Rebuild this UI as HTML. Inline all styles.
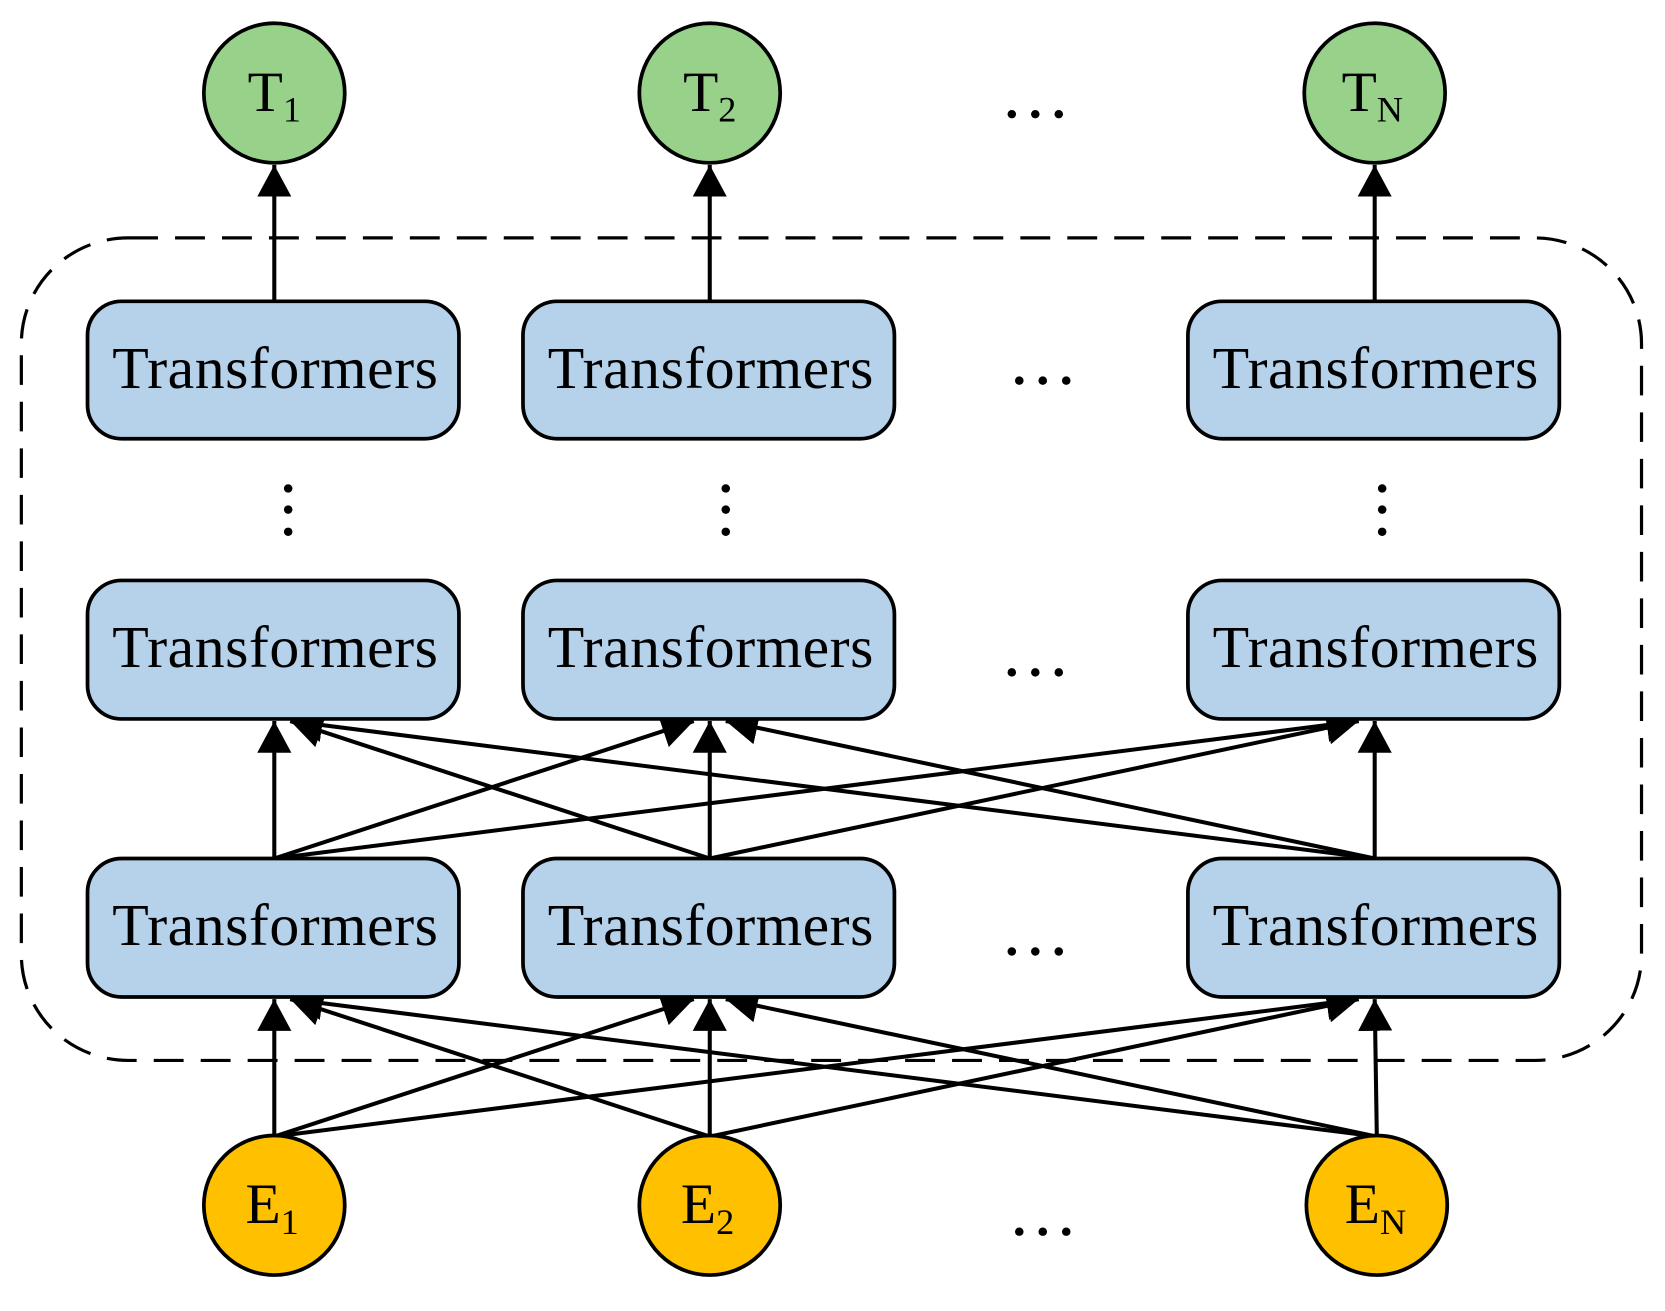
<!DOCTYPE html>
<html><head><meta charset="utf-8"><style>
html,body{margin:0;padding:0;background:#fff;}
svg{display:block;}
</style></head><body>
<svg width="1665" height="1311" viewBox="0 0 1560 1240" preserveAspectRatio="none" xmlns="http://www.w3.org/2000/svg">
<defs>
<marker id="ah" viewBox="0 0 30 32" refX="30" refY="16" markerWidth="30" markerHeight="32" markerUnits="userSpaceOnUse" orient="auto">
<path d="M0,0 L30,16 L0,32 z" fill="#000"/>
</marker>
</defs>
<rect x="20" y="225" width="1518" height="778" rx="100" ry="100" fill="none" stroke="#000" stroke-width="3" stroke-dasharray="28,16"/>
<g stroke="#000" stroke-width="3.8" fill="none" marker-end="url(#ah)">
<line x1="257" y1="285" x2="257" y2="156"/>
<line x1="665" y1="285" x2="665" y2="156"/>
<line x1="1288" y1="285" x2="1288" y2="156"/>
<line x1="257" y1="812" x2="257" y2="682"/>
<line x1="665" y1="812" x2="665" y2="682"/>
<line x1="1288" y1="812" x2="1288" y2="682"/>
<line x1="665" y1="812" x2="272" y2="682"/>
<line x1="1288" y1="812" x2="272" y2="682"/>
<line x1="257" y1="812" x2="650" y2="682"/>
<line x1="1288" y1="812" x2="680" y2="682"/>
<line x1="257" y1="812" x2="1273" y2="682"/>
<line x1="665" y1="812" x2="1273" y2="682"/>
<line x1="257" y1="1075" x2="257" y2="945"/>
<line x1="665" y1="1075" x2="665" y2="945"/>
<line x1="1290" y1="1075" x2="1288" y2="945"/>
<line x1="665" y1="1075" x2="272" y2="945"/>
<line x1="1290" y1="1075" x2="272" y2="945"/>
<line x1="257" y1="1075" x2="650" y2="945"/>
<line x1="1290" y1="1075" x2="680" y2="945"/>
<line x1="257" y1="1075" x2="1273" y2="945"/>
<line x1="665" y1="1075" x2="1273" y2="945"/>
</g>
<g fill="#b6d1ea" stroke="#000" stroke-width="3.5">
<rect x="82" y="285" width="348" height="130" rx="32"/>
<rect x="490" y="285" width="348" height="130" rx="32"/>
<rect x="1113" y="285" width="348" height="130" rx="32"/>
<rect x="82" y="549" width="348" height="131" rx="32"/>
<rect x="490" y="549" width="348" height="131" rx="32"/>
<rect x="1113" y="549" width="348" height="131" rx="32"/>
<rect x="82" y="812" width="348" height="131" rx="32"/>
<rect x="490" y="812" width="348" height="131" rx="32"/>
<rect x="1113" y="812" width="348" height="131" rx="32"/>
</g>
<g font-family="Liberation Serif, serif" font-size="56" text-anchor="middle" fill="#000" letter-spacing="0.5">
<text x="258" y="367">Transformers</text>
<text x="666" y="367">Transformers</text>
<text x="1289" y="367">Transformers</text>
<text x="258" y="631">Transformers</text>
<text x="666" y="631">Transformers</text>
<text x="1289" y="631">Transformers</text>
<text x="258" y="894">Transformers</text>
<text x="666" y="894">Transformers</text>
<text x="1289" y="894">Transformers</text>
</g>
<g stroke="#000" stroke-width="3.5">
<circle cx="257" cy="88" r="66" fill="#97d18a"/>
<circle cx="665" cy="88" r="66" fill="#97d18a"/>
<circle cx="1288" cy="88" r="66" fill="#97d18a"/>
<circle cx="257" cy="1140" r="66" fill="#ffc000"/>
<circle cx="665" cy="1140" r="66" fill="#ffc000"/>
<circle cx="1290" cy="1140" r="66" fill="#ffc000"/>
</g>
<g font-family="Liberation Serif, serif" font-size="54" fill="#000">
<text x="232" y="105">T<tspan font-size="34" dy="10">1</tspan></text>
<text x="640" y="105">T<tspan font-size="34" dy="10">2</tspan></text>
<text x="1257" y="105">T<tspan font-size="34" dy="10">N</tspan></text>
<text x="230" y="1157">E<tspan font-size="34" dy="10">1</tspan></text>
<text x="638" y="1157">E<tspan font-size="34" dy="10">2</tspan></text>
<text x="1260" y="1157">E<tspan font-size="34" dy="10">N</tspan></text>
</g>
<g fill="#000">
<g transform="translate(970,108)"><circle cx="-22" cy="0" r="4"/><circle cx="0" cy="0" r="4"/><circle cx="22" cy="0" r="4"/></g>
<g transform="translate(977,360)"><circle cx="-22" cy="0" r="4"/><circle cx="0" cy="0" r="4"/><circle cx="22" cy="0" r="4"/></g>
<g transform="translate(970,636)"><circle cx="-22" cy="0" r="4"/><circle cx="0" cy="0" r="4"/><circle cx="22" cy="0" r="4"/></g>
<g transform="translate(970,900)"><circle cx="-22" cy="0" r="4"/><circle cx="0" cy="0" r="4"/><circle cx="22" cy="0" r="4"/></g>
<g transform="translate(977,1165)"><circle cx="-22" cy="0" r="4"/><circle cx="0" cy="0" r="4"/><circle cx="22" cy="0" r="4"/></g>
<g transform="translate(270,0)"><circle cy="462" r="4"/><circle cy="482" r="4"/><circle cy="503" r="4"/></g>
<g transform="translate(680,0)"><circle cy="462" r="4"/><circle cy="482" r="4"/><circle cy="503" r="4"/></g>
<g transform="translate(1295,0)"><circle cy="462" r="4"/><circle cy="482" r="4"/><circle cy="503" r="4"/></g>
</g>
</svg>
</body></html>
